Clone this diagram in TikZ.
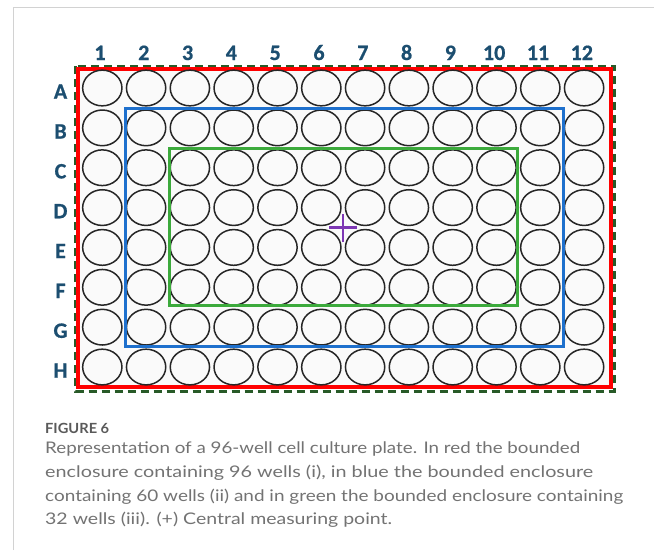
\documentclass[tikz,border=0pt]{standalone}
\usepackage{fontspec}
\usetikzlibrary{shapes.geometric,calc}
\newfontfamily\labfont{Carlito}[BoldFeatures={FakeBold=0.7}]
\newfontfamily\captfont{Lato}
\definecolor{labblue}{RGB}{28,78,112}
\definecolor{plred}{RGB}{255,0,0}
\definecolor{plblue}{RGB}{30,112,205}
\definecolor{plgreen}{RGB}{60,170,60}
\definecolor{dkgreen}{RGB}{40,90,40}
\definecolor{pluscol}{RGB}{125,55,180}
\definecolor{framegray}{RGB}{210,210,210}
\definecolor{figgray}{RGB}{90,90,90}
\definecolor{capgray}{RGB}{115,115,115}
\definecolor{platebg}{RGB}{250,250,250}
\begin{document}
\begin{tikzpicture}[x=1pt,y=-1pt,
  well/.style={ellipse,draw=black!85,line width=1.5pt,minimum width=39.3pt,minimum height=35.7pt,inner sep=0pt},
  lab/.style={font=\labfont\bfseries\fontsize{22}{22}\selectfont,text=labblue,inner sep=0pt,anchor=base},
  capline/.style={font=\captfont\fontsize{16}{16}\selectfont,text=capgray,inner sep=0pt,anchor=base west},
  figlab/.style={font=\captfont\bfseries\fontsize{14}{14}\selectfont,text=figgray,inner sep=0pt,anchor=base west},
  encl/.style={line width=3pt},
]
\useasboundingbox (0,0) rectangle (654,550);
\fill[white] (0,0) rectangle (654,550);
\draw[framegray,line width=1pt] (13.3,550) -- (13.3,7.3) -- (654,7.3);
% plate outline
\draw[dkgreen,line width=3pt,dash pattern=on 8pt off 5pt] (75.7,66) rectangle (614,391);
\fill[platebg] (78,68.7) rectangle (611.3,387);
\draw[plred,line width=4pt] (78,68.7) rectangle (611.3,387);
% wells
\foreach \r in {1,...,8}{
  \foreach \c in {1,...,12}{
    \node[well] (w-\r-\c) at ({102.3+43.8*(\c-1)},{88+39.86*(\r-1)}) {};
  }
}
% column labels
\foreach \c in {1,...,12}{
  \node[lab] (col-\c) at ({100+43.8*(\c-1)},60) {\c};
}
% row labels
\foreach \l [count=\r] in {A,B,C,D,E,F,G,H}{
  \node[lab] (row-\l) at (60.5,{98.7+39.86*(\r-1)}) {\l};
}
% enclosures
\draw[encl,plblue] (125.3,108.3) rectangle (563.7,346.8);
\draw[encl,plgreen] (169.3,148.3) rectangle (517.5,305);
% central point
\coordinate (ctr) at ($(w-4-6.center)!0.5!(w-5-7.center)$);
\draw[pluscol,line width=2.4pt] ([xshift=-14pt]ctr) -- ([xshift=14pt]ctr)
  ([yshift=-14pt]ctr) -- ([yshift=14pt]ctr);
% caption
\node[figlab] (fig) at (45,433) {\resizebox{64pt}{\height}{FIGURE 6}};
\node[capline] (c1) at (45,453.3) {\resizebox{535pt}{\height}{Representation of a 96-well cell culture plate. In red the bounded}};
\node[capline] (c2) at (45,477.3) {\resizebox{548pt}{\height}{enclosure containing 96 wells (i), in blue the bounded enclosure}};
\node[capline] (c3) at (45,501) {\resizebox{578pt}{\height}{containing 60 wells (ii) and in green the bounded enclosure containing}};
\node[capline] (c4) at (45,524.5) {\resizebox{347pt}{\height}{32 wells (iii). (+) Central measuring point.}};
\end{tikzpicture}
\end{document}
